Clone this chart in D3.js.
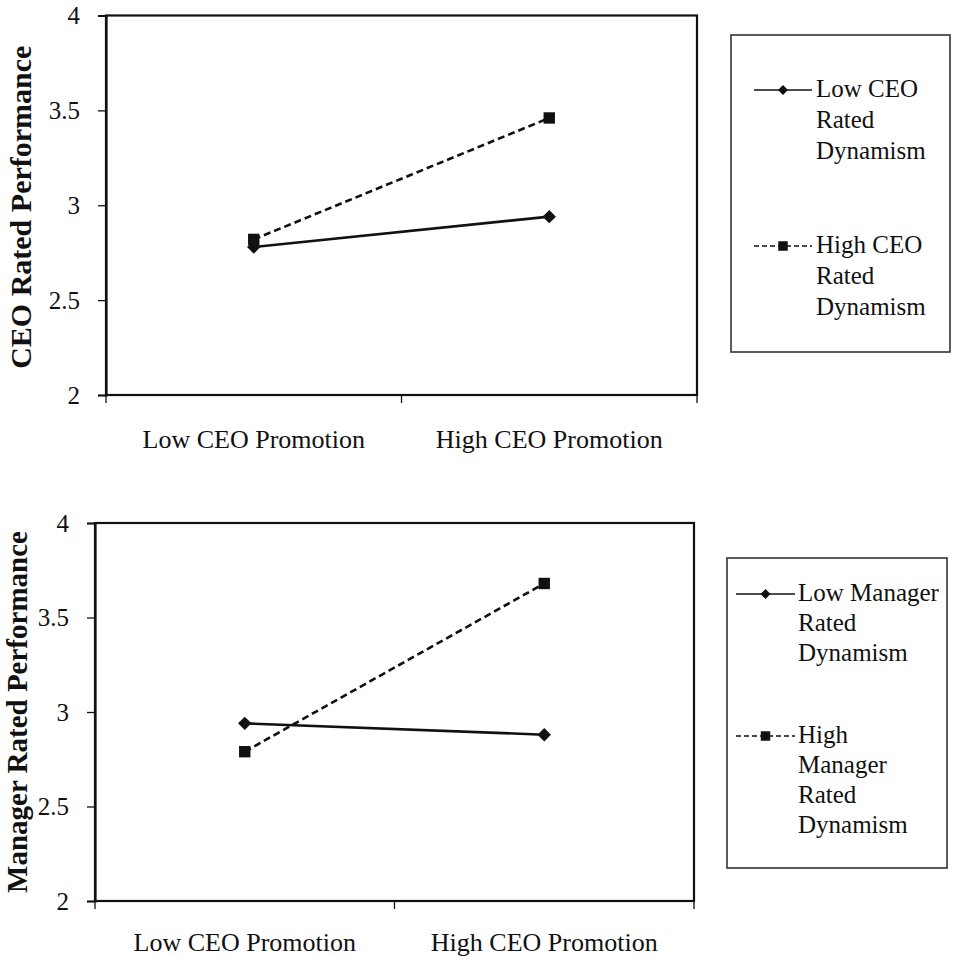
<!DOCTYPE html>
<html>
<head>
<meta charset="utf-8">
<script src="https://cdn.jsdelivr.net/npm/d3@7/dist/d3.min.js"></script>
<style>
  html, body { margin: 0; padding: 0; background: #fff; }
  svg { display: block; }
  text { font-family: "Liberation Serif", "Times New Roman", serif !important; fill: #111; }
</style>
</head>
<body>
<svg id="chart" width="957" height="956" font-family="Liberation Serif, serif"></svg>
<script>
// ---- data ----
const categories = ["Low CEO Promotion", "High CEO Promotion"];
const yTicks = [2, 2.5, 3, 3.5, 4];
const yTickLabels = ["2", "2.5", "3", "3.5", "4"];

const ceoLowDynamism = [2.78, 2.94];
const ceoHighDynamism = [2.82, 3.46];
const mgrLowDynamism = [2.94, 2.88];
const mgrHighDynamism = [2.79, 3.68];

const ceoTitle = "CEO Rated Performance";
const mgrTitle = "Manager Rated Performance";
const ceoLegendLow = ["Low CEO", "Rated", "Dynamism"];
const ceoLegendHigh = ["High CEO", "Rated", "Dynamism"];
const mgrLegendLow = ["Low Manager", "Rated", "Dynamism"];
const mgrLegendHigh = ["High", "Manager", "Rated", "Dynamism"];

const FONT = "'Liberation Serif', 'Times New Roman', serif";
const svg = d3.select("#chart");

function panel(cfg) {
  const g = svg.append("g").attr("font-family", FONT);
  const x = d3.scaleBand().domain(categories).range([cfg.left, cfg.right]);
  const y = d3.scaleLinear().domain([2, 4]).range([cfg.bottom, cfg.top]);
  const cx = c => x(c) + x.bandwidth() / 2;

  // plot frame
  g.append("rect")
    .attr("x", cfg.left).attr("y", cfg.top)
    .attr("width", cfg.right - cfg.left).attr("height", cfg.bottom - cfg.top)
    .attr("fill", "none").attr("stroke", "#111").attr("stroke-width", 2.2);

  // y axis
  const yAxis = d3.axisLeft(y).tickValues(yTicks).tickSize(8).tickPadding(18)
    .tickFormat((d, i) => yTickLabels[i]);
  const ya = g.append("g").attr("transform", `translate(${cfg.left},0)`).call(yAxis)
    .attr("font-family", FONT).attr("font-size", 25);
  ya.select(".domain").attr("stroke", "#111").attr("stroke-width", 2.2);
  ya.selectAll(".tick line").attr("stroke", "#111").attr("stroke-width", 1.3);
  ya.selectAll(".tick text").attr("font-size", 25)
    .style("font-family", FONT).attr("fill", "#111");

  // x axis ticks at band boundaries
  const bounds = categories.map(c => x(c)).concat([x.range()[1]]);
  g.selectAll(".xt").data(bounds).enter().append("line")
    .attr("x1", d => d).attr("x2", d => d)
    .attr("y1", cfg.bottom).attr("y2", cfg.bottom + 8)
    .attr("stroke", "#111").attr("stroke-width", 1.3);
  g.selectAll(".xl").data(categories).enter().append("text")
    .attr("x", d => cx(d)).attr("y", cfg.bottom + cfg.labelOffset)
    .attr("text-anchor", "middle").attr("font-size", 26)
    .style("font-family", FONT)
    .text(d => d);

  // y title
  g.append("text")
    .attr("transform", `translate(${cfg.titleX},${(cfg.top + cfg.bottom) / 2 + cfg.titleShift}) rotate(-90)`)
    .attr("text-anchor", "middle").attr("font-size", cfg.titleSize).attr("font-weight", "bold")
    .style("font-family", FONT)
    .text(cfg.title);

  // series
  const line = d3.line().x((d, i) => cx(categories[i])).y(d => y(d));
  g.append("path").datum(cfg.low).attr("d", line)
    .attr("fill", "none").attr("stroke", "#111").attr("stroke-width", 2.6);
  g.append("path").datum(cfg.high).attr("d", line)
    .attr("fill", "none").attr("stroke", "#111").attr("stroke-width", 2.6)
    .attr("stroke-dasharray", "7,4");

  const square = d3.symbol().type(d3.symbolSquare).size(130);
  g.selectAll(".dl").data(cfg.low).enter().append("path")
    .attr("d", d3.symbol().type(d3.symbolSquare).size(90))
    .attr("transform", (d, i) => `translate(${cx(categories[i])},${y(d)}) rotate(45)`)
    .attr("fill", "#111");
  g.selectAll(".dh").data(cfg.high).enter().append("path")
    .attr("d", square)
    .attr("transform", (d, i) => `translate(${cx(categories[i])},${y(d)})`)
    .attr("fill", "#111");

  // legend
  const L = cfg.legend;
  g.append("rect").attr("x", L.x0).attr("y", L.y0)
    .attr("width", L.x1 - L.x0).attr("height", L.y1 - L.y0)
    .attr("fill", "none").attr("stroke", "#333").attr("stroke-width", 1.6);
  const entries = [
    { lines: cfg.legLow, ly: L.e1, dash: null, sym: "d" },
    { lines: cfg.legHigh, ly: L.e2, dash: "5,3", sym: "s" }
  ];
  entries.forEach(e => {
    g.append("line").attr("x1", L.lx0).attr("x2", L.lx1)
      .attr("y1", e.ly).attr("y2", e.ly)
      .attr("stroke", "#111").attr("stroke-width", 1.5)
      .attr("stroke-dasharray", e.dash);
    const mx = (L.lx0 + L.lx1) / 2;
    if (e.sym === "d") {
      g.append("path").attr("d", d3.symbol().type(d3.symbolSquare).size(50))
        .attr("transform", `translate(${mx},${e.ly}) rotate(45)`).attr("fill", "#111");
    } else {
      g.append("path").attr("d", d3.symbol().type(d3.symbolSquare).size(90))
        .attr("transform", `translate(${mx},${e.ly})`).attr("fill", "#111");
    }
    e.lines.forEach((t, i) => {
      g.append("text").attr("x", L.tx).attr("y", e.ly + 7 + i * L.lh)
        .attr("font-size", 25).style("font-family", FONT).text(t);
    });
  });
}

panel({
  left: 106, right: 697, top: 15.5, bottom: 395, labelOffset: 53,
  titleX: 31, titleShift: 2, titleSize: 30, title: ceoTitle,
  low: ceoLowDynamism, high: ceoHighDynamism,
  legLow: ceoLegendLow, legHigh: ceoLegendHigh,
  legend: { x0: 731, x1: 950, y0: 35, y1: 352, lx0: 754, lx1: 812, tx: 816, e1: 90, e2: 246, lh: 31 }
});

panel({
  left: 95, right: 694, top: 523, bottom: 901, labelOffset: 50,
  titleX: 27, titleShift: 0, titleSize: 29, title: mgrTitle,
  low: mgrLowDynamism, high: mgrHighDynamism,
  legLow: mgrLegendLow, legHigh: mgrLegendHigh,
  legend: { x0: 727, x1: 947, y0: 558, y1: 868, lx0: 736, lx1: 795, tx: 798, e1: 594, e2: 736, lh: 30 }
});
</script>
</body>
</html>
